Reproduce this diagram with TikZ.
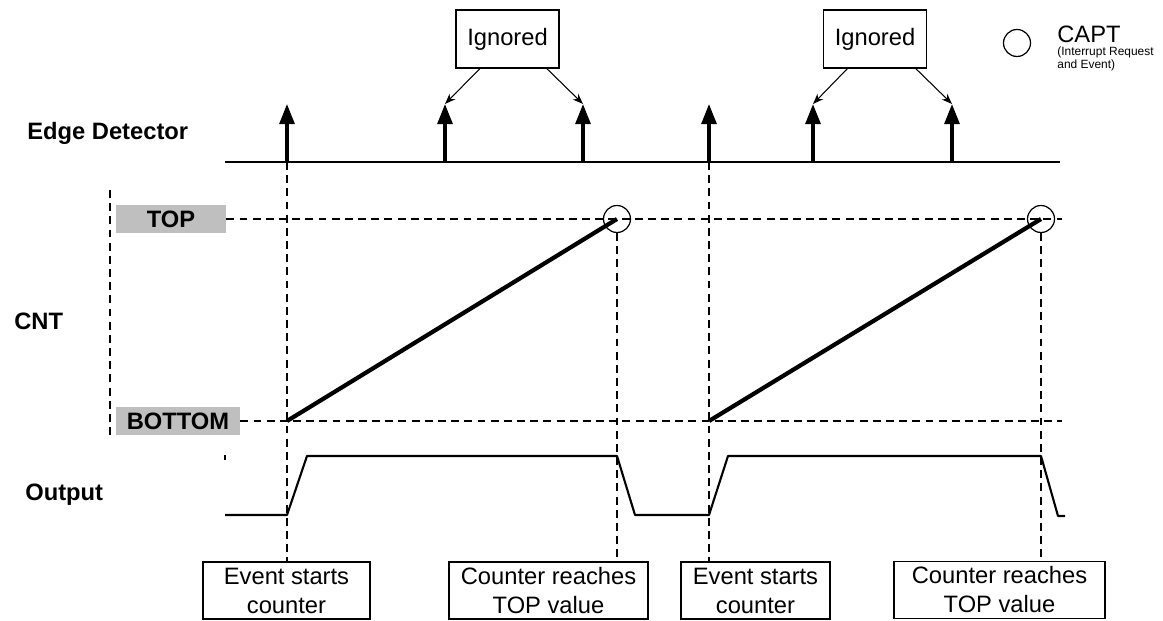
\documentclass[tikz,border=0pt]{standalone}
\usepackage{fontspec}
\setmainfont{Liberation Sans}
\usetikzlibrary{arrows.meta}

\begin{document}
\begin{tikzpicture}[x=0.02cm,y=-0.02cm,edg/.style={line width=2pt,-{Triangle[length=11.5pt,width=8.5pt]}},ign/.style={line width=0.6pt,-{Stealth[length=6pt,width=4.5pt]}},dsh/.style={line width=0.9pt,dash pattern=on 4.5pt off 3pt},rmp/.style={line width=2.4pt},wav/.style={line width=1.2pt,line join=round},lbl/.style={font=\fontsize{13.5}{16}\selectfont\bfseries,inner sep=0pt},lvl/.style={fill=gray!50,minimum height=0.56cm,inner sep=0pt,font=\fontsize{13.5}{16}\selectfont\bfseries},ibox/.style={draw,line width=0.8pt,minimum width=2.06cm,minimum height=1.16cm,font=\fontsize{13.5}{16}\selectfont},evt/.style={draw,line width=0.8pt,align=center,minimum height=1.14cm,inner sep=0pt,font=\fontsize{13.5}{16.5}\selectfont},cpt/.style={draw,circle,line width=0.7pt,minimum size=0.54cm,inner sep=0pt}]

\useasboundingbox (0,0) rectangle (1163,621);

%row labels
\node[lbl,anchor=west] at (27,133) (edl){Edge Detector};
\node[lbl,anchor=west] at (14,321) (cnl){CNT};
\node[lbl,anchor=west] at (25,495) (oul){Output};

%legend
\node[cpt] at (1017,43) (leg){};
\node[anchor=west,inner sep=0pt,font=\fontsize{13.5}{16}\selectfont] at (1057,34) (capt){CAPT};
\node[anchor=west,inner sep=0pt,align=left,font=\fontsize{6.8}{5.8}\selectfont] at (1057,59) (capd){(Interrupt Request\\and Event)};

%edge detector
\draw[line width=0.9pt] (225,162) -- (1060,162);
\coordinate (e1) at (287,162); \coordinate (e1t) at (287,104);
\coordinate (e2) at (445,162); \coordinate (e2t) at (445,104);
\coordinate (e3) at (583,162); \coordinate (e3t) at (583,104);
\coordinate (e4) at (709,162); \coordinate (e4t) at (709,104);
\coordinate (e5) at (813,162); \coordinate (e5t) at (813,104);
\coordinate (e6) at (952,162); \coordinate (e6t) at (952,104);
\foreach \i in {1,...,6}
  \draw[edg] (e\i) -- (e\i t);

\node[ibox] at (507.5,39) (ign1){Ignored};
\node[ibox] at (875,39) (ign2){Ignored};
\draw[ign] (ign1.227) -- (e2t);
\draw[ign] (ign1.323) -- (e3t);
\draw[ign] (ign2.227) -- (e5t);
\draw[ign] (ign2.324) -- (e6t);

%counter
\draw[dsh] (110,190) -- (110,438);
\node[lvl,minimum width=2.2cm] at (171,219) (top){TOP};
\node[lvl,minimum width=2.48cm] at (178,421) (bot){BOTTOM};
\coordinate (topend) at (1062,219);
\coordinate (botend) at (1062,421);
\draw[dsh] (top.east) -- (topend);
\draw[dsh] (bot.east) -- (botend);

\node[cpt] at (617,219) (capA){};
\node[cpt] at (1041,219) (capB){};
\coordinate (r1) at (287,421);
\coordinate (r2) at (709,421);
\draw[rmp] (r1) -- (capA.center);
\draw[rmp] (r2) -- (capB.center);

%output
\draw[line width=0.8pt] (225,455) -- (225,460);
\draw[wav] (225,515) -- (287,515) -- (307,456) -- (617,456) -- (635,515) -- (709,515) -- (728,456) -- (1041,456) -- (1058,516) -- (1065,516);

%event boxes
\node[evt,minimum width=3.34cm] at (286.5,590.5) (ev1){Event starts\\counter};
\node[evt,minimum width=3.98cm] at (548.5,590.5) (ct1){Counter reaches\\TOP value};
\node[evt,minimum width=2.98cm] at (755.5,590.5) (ev2){Event starts\\counter};
\node[evt,minimum width=4.22cm] at (999.5,590) (ct2){Counter reaches\\TOP value};

\draw[dsh] (e1) -- (e1 |- ev1.north);
\draw[dsh] (capA.south) -- (capA |- ct1.north);
\draw[dsh] (e4) -- (e4 |- ev2.north);
\draw[dsh] (capB.south) -- (capB |- ct2.north);
\end{tikzpicture}
\end{document}
